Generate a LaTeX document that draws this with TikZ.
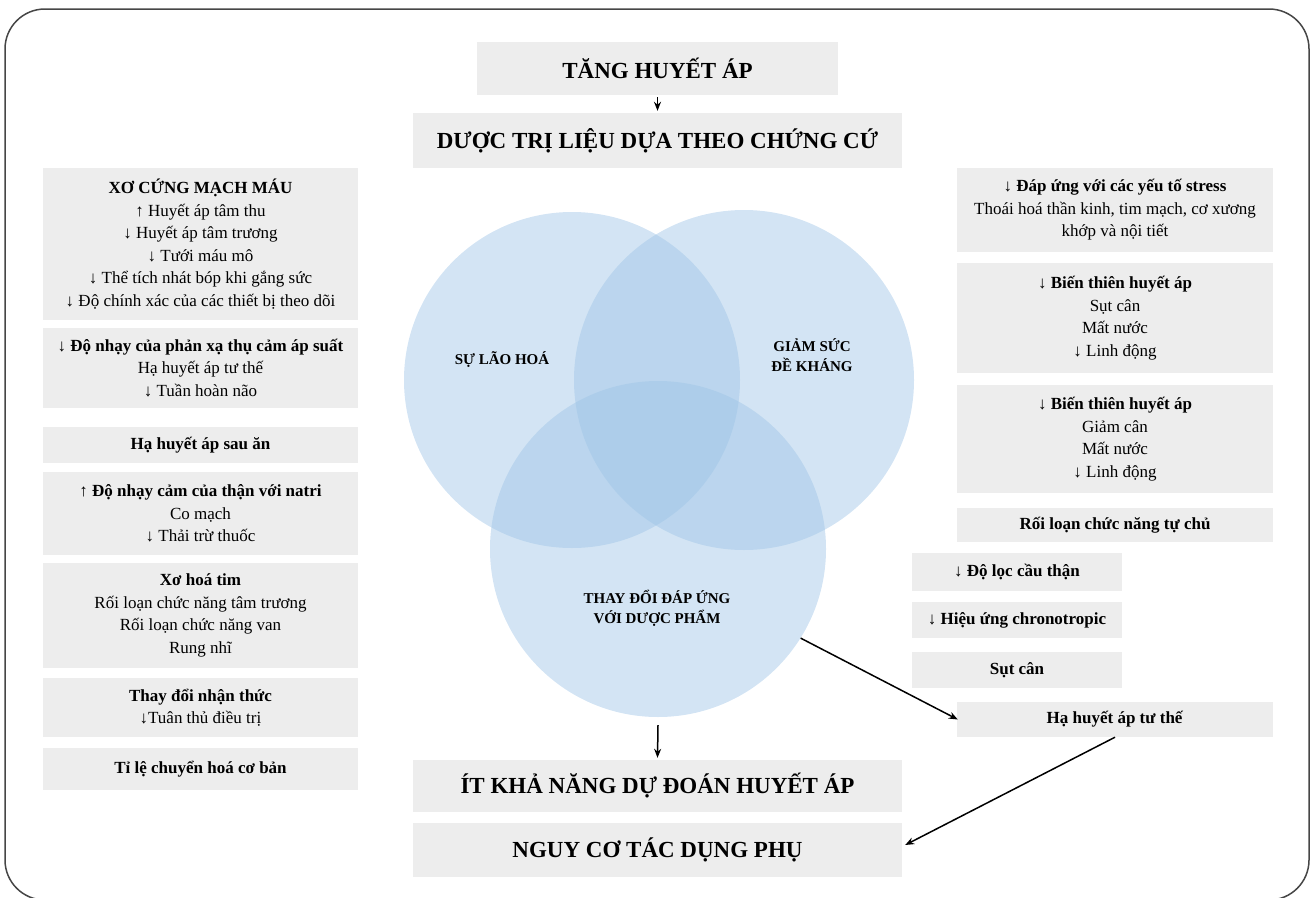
\documentclass[tikz,border=0pt]{standalone}
\usepackage{fontspec}
\setmainfont{Liberation Serif}
\usetikzlibrary{arrows.meta}
\definecolor{boxgray}{RGB}{237,237,237}
\definecolor{vennblue}{RGB}{157,195,230}
\definecolor{framegray}{RGB}{70,70,70}
\newcommand{\bodyfs}{\fontsize{17pt}{22.5pt}\selectfont}
\newcommand{\bigfs}{\fontsize{23pt}{27pt}\selectfont\bfseries}
\newcommand{\vennfs}{\fontsize{15pt}{20pt}\selectfont\bfseries}
\begin{document}
\begin{tikzpicture}[x=1pt,y=-1pt,
  box/.style={fill=boxgray, inner sep=0pt, align=center, font=\bodyfs},
  bigbox/.style={fill=boxgray, inner sep=0pt, align=center, font=\bigfs},
  venn/.style={circle, fill=vennblue, fill opacity=0.45, inner sep=0pt},
  vlabel/.style={align=center, font=\vennfs, inner sep=0pt},
  arr/.style={-{Stealth[length=9pt,width=7pt]}, line width=1.5pt, black}]
\useasboundingbox (0,0) rectangle (1312,897);
\draw[rounded corners=40pt, line width=1.5pt, framegray] (5,9) rectangle (1309,900);

% Venn circles
\node[venn, minimum size=336pt] (C1) at (572,380) {};
\node[venn, minimum size=340pt] (C2) at (744,380) {};
\node[venn, minimum size=336pt] (C3) at (658,549) {};
\node[vlabel] (L1txt) at (502,360) {SỰ LÃO HOÁ};
\node[vlabel] (L2txt) at (812,355) {GIẢM SỨC\\ĐỀ KHÁNG};
\node[vlabel] (L3txt) at (657,608) {THAY ĐỔI ĐÁP ỨNG\\VỚI DƯỢC PHẨM};

% top and bottom boxes
\node[bigbox, minimum width=361pt, minimum height=53pt] (T1) at (657.5,68.5) {TĂNG HUYẾT ÁP};
\node[bigbox, minimum width=489pt, minimum height=55pt] (T2) at (657.5,140.5) {DƯỢC TRỊ LIỆU DỰA THEO CHỨNG CỨ};
\node[bigbox, minimum width=489pt, minimum height=52pt] (B1) at (657.5,786) {ÍT KHẢ NĂNG DỰ ĐOÁN HUYẾT ÁP};
\node[bigbox, minimum width=489pt, minimum height=54pt] (B2) at (657.5,850) {NGUY CƠ TÁC DỤNG PHỤ};

% left column
\node[box, minimum width=315pt, minimum height=152pt] (L1) at (200.5,244) {\textbf{XƠ CỨNG MẠCH MÁU}\\↑ Huyết áp tâm thu\\↓ Huyết áp tâm trương\\↓ Tưới máu mô\\↓ Thể tích nhát bóp khi gắng sức\\↓ Độ chính xác của các thiết bị theo dõi};
\node[box, minimum width=315pt, minimum height=80pt] (L2) at (200.5,368) {\textbf{↓ Độ nhạy của phản xạ thụ cảm áp suất}\\Hạ huyết áp tư thế\\↓ Tuần hoàn não};
\node[box, minimum width=315pt, minimum height=36pt] (L3) at (200.5,445) {\textbf{Hạ huyết áp sau ăn}};
\node[box, minimum width=315pt, minimum height=83pt] (L4) at (200.5,513.5) {\textbf{↑ Độ nhạy cảm của thận với natri}\\Co mạch\\↓ Thải trừ thuốc};
\node[box, minimum width=315pt, minimum height=105pt] (L5) at (200.5,615.5) {\textbf{Xơ hoá tim}\\Rối loạn chức năng tâm trương\\Rối loạn chức năng van\\Rung nhĩ};
\node[box, minimum width=315pt, minimum height=59pt] (L6) at (200.5,707.5) {\textbf{Thay đổi nhận thức}\\↓Tuân thủ điều trị};
\node[box, minimum width=315pt, minimum height=42pt] (L7) at (200.5,769) {\textbf{Tỉ lệ chuyển hoá cơ bản}};

% right column
\node[box, minimum width=316pt, minimum height=84pt] (R1) at (1115,210) {\textbf{↓ Đáp ứng với các yếu tố stress}\\Thoái hoá thần kinh, tim mạch, cơ xương\\khớp và nội tiết};
\node[box, minimum width=316pt, minimum height=110pt] (R2) at (1115,318) {\textbf{↓ Biến thiên huyết áp}\\Sụt cân\\Mất nước\\↓ Linh động};
\node[box, minimum width=316pt, minimum height=108pt] (R3) at (1115,439) {\textbf{↓ Biến thiên huyết áp}\\Giảm cân\\Mất nước\\↓ Linh động};
\node[box, minimum width=316pt, minimum height=34pt] (R4) at (1115,525) {\textbf{Rối loạn chức năng tự chủ}};
\node[box, minimum width=210pt, minimum height=38pt] (R5) at (1017,572) {\textbf{↓ Độ lọc cầu thận}};
\node[box, minimum width=210pt, minimum height=36pt] (R6) at (1017,620) {\textbf{↓ Hiệu ứng chronotropic}};
\node[box, minimum width=210pt, minimum height=36pt] (R7) at (1017,670) {\textbf{Sụt cân}};
\node[box, minimum width=316pt, minimum height=35pt] (R8) at (1115,719.5) {\textbf{Hạ huyết áp tư thế}};

% connectors
\draw[arr, line width=1.8pt] ([yshift=-2pt]T1.south) -- ([yshift=2pt]T2.north);
\draw[arr] ([yshift=-8pt]C3.south) -- ([yshift=2pt]B1.north);
\draw[arr] (C3.-32) -- ([xshift=1pt]R8.west);
\draw[arr] (R8.south) -- ([xshift=3pt,yshift=5pt]B2.east);
\end{tikzpicture}
\end{document}
